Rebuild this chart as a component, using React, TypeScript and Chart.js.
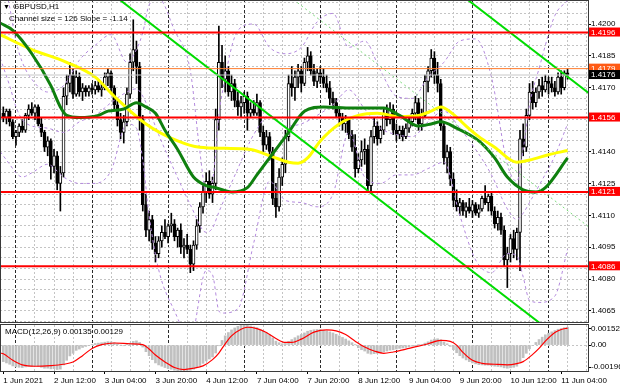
import React, { useEffect, useRef } from 'react';
import { Chart, registerables } from 'chart.js';

Chart.register(...registerables);

const FONT = "'Liberation Sans', 'DejaVu Sans', Arial, sans-serif";

// ---------------- texts ----------------
const symbolLabel = 'GBPUSD,H1';
const channelLabel = 'Channel size = 126 Slope = -1.14';
const macdLabel = 'MACD(12,26,9) 0.00135 0.00129';

// ---------------- time axis (bar 0 = 1 Jun 2021 20:00, H1) ----------------
const timeLabels = ['1 Jun 2021', '2 Jun 12:00', '3 Jun 04:00', '3 Jun 20:00', '4 Jun 12:00', '7 Jun 04:00',
  '7 Jun 20:00', '8 Jun 12:00', '9 Jun 04:00', '9 Jun 20:00', '10 Jun 12:00', '11 Jun 04:00'];
const timeLabelBars = [0, 16, 32, 48, 64, 80, 96, 112, 128, 144, 160, 176];
const daySeparatorBars = [4, 28, 52, 76, 100, 124, 148, 172];

// ---------------- price axis ----------------
const priceAxisLabels = [1.42, 1.4185, 1.417, 1.414, 1.4125, 1.411, 1.4095, 1.408, 1.4065];
const redLevels = [1.4196, 1.4156, 1.4121, 1.4086];
const orangeLevel = 1.4179;
const bidPrice = 1.4176;

// ---------------- candles ----------------
const opens = [
  1.4158, 1.4156, 1.4159, 1.4154, 1.4147, 1.4149, 1.4152, 1.4150, 1.4157, 1.4160,
  1.4158, 1.4161, 1.4153, 1.4149, 1.4142, 1.4145, 1.4133, 1.4138, 1.4125, 1.4130,
  1.4166, 1.4172, 1.4176, 1.4167, 1.4175, 1.4168, 1.4170, 1.4168, 1.4170, 1.4169,
  1.4171, 1.4169, 1.4170, 1.4175, 1.4177, 1.4170, 1.4162, 1.4155, 1.4149, 1.4154,
  1.4167, 1.4182, 1.4188, 1.4180, 1.4155, 1.4115, 1.4103, 1.4108, 1.4097, 1.4092,
  1.4098, 1.4102, 1.4100, 1.4105, 1.4106, 1.4100, 1.4103, 1.4095, 1.4096, 1.4094,
  1.4087, 1.4096, 1.4105, 1.4114, 1.4121, 1.4126, 1.4120, 1.4125, 1.4155, 1.4182,
  1.4174, 1.4178, 1.4168, 1.4172, 1.4164, 1.4161, 1.4163, 1.4166, 1.4158, 1.4160,
  1.4158, 1.4163, 1.4149, 1.4143, 1.4147, 1.4140, 1.4118, 1.4114, 1.4128, 1.4134,
  1.4147, 1.4172, 1.4170, 1.4175, 1.4178, 1.4172, 1.4182, 1.4185, 1.4178, 1.4173,
  1.4177, 1.4175, 1.4172, 1.4170, 1.4165, 1.4163, 1.4158, 1.4156, 1.4153, 1.4155,
  1.4148, 1.4142, 1.4132, 1.4136, 1.4140, 1.4141, 1.4124, 1.4147, 1.4152, 1.4146,
  1.4150, 1.4158, 1.4155, 1.4160, 1.4150, 1.4148, 1.4150, 1.4147, 1.4151, 1.4154,
  1.4158, 1.4163, 1.4153, 1.4157, 1.4173, 1.4178, 1.4184, 1.4176, 1.4172, 1.4152,
  1.4137, 1.4140, 1.4127, 1.4117, 1.4114, 1.4116, 1.4112, 1.4114, 1.4112, 1.4115,
  1.4111, 1.4113, 1.4118, 1.4116, 1.4119, 1.4112, 1.4106, 1.4109, 1.4103, 1.4089,
  1.4092, 1.4099, 1.4094, 1.4102, 1.4146, 1.4142, 1.4157, 1.4168, 1.4163, 1.4168,
  1.4171, 1.4169, 1.4173, 1.4172, 1.4170, 1.4168, 1.4175, 1.4170, 1.4177,
];
const highs = [
  1.4161, 1.4160, 1.4160, 1.4155, 1.4150, 1.4153, 1.4155, 1.4158, 1.4162, 1.4163,
  1.4162, 1.4162, 1.4156, 1.4150, 1.4147, 1.4146, 1.4141, 1.4140, 1.4133, 1.4170,
  1.4176, 1.4182, 1.4179, 1.4178, 1.4177, 1.4172, 1.4171, 1.4171, 1.4172, 1.4173,
  1.4174, 1.4172, 1.4177, 1.4179, 1.4178, 1.4171, 1.4164, 1.4158, 1.4157, 1.4170,
  1.4186, 1.4202, 1.4192, 1.4182, 1.4157, 1.4120, 1.4112, 1.4110, 1.4100, 1.4100,
  1.4105, 1.4108, 1.4106, 1.4111, 1.4108, 1.4104, 1.4106, 1.4099, 1.4101, 1.4096,
  1.4098, 1.4108, 1.4116, 1.4124, 1.4130, 1.4131, 1.4128, 1.4160, 1.4199, 1.4190,
  1.4185, 1.4180, 1.4176, 1.4174, 1.4168, 1.4166, 1.4168, 1.4168, 1.4163, 1.4164,
  1.4167, 1.4164, 1.4152, 1.4150, 1.4149, 1.4142, 1.4125, 1.4132, 1.4137, 1.4150,
  1.4176, 1.4180, 1.4178, 1.4181, 1.4180, 1.4184, 1.4189, 1.4187, 1.4181, 1.4179,
  1.4180, 1.4179, 1.4176, 1.4173, 1.4168, 1.4165, 1.4160, 1.4158, 1.4157, 1.4156,
  1.4150, 1.4148, 1.4139, 1.4145, 1.4146, 1.4143, 1.4150, 1.4156, 1.4154, 1.4152,
  1.4160, 1.4162, 1.4163, 1.4162, 1.4153, 1.4152, 1.4152, 1.4153, 1.4156, 1.4160,
  1.4166, 1.4165, 1.4160, 1.4176, 1.4180, 1.4188, 1.4187, 1.4182, 1.4174, 1.4154,
  1.4143, 1.4142, 1.4130, 1.4122, 1.4118, 1.4117, 1.4116, 1.4118, 1.4117, 1.4116,
  1.4115, 1.4119, 1.4124, 1.4120, 1.4121, 1.4114, 1.4112, 1.4111, 1.4105, 1.4095,
  1.4101, 1.4103, 1.4104, 1.4150, 1.4153, 1.4160, 1.4172, 1.4173, 1.4170, 1.4174,
  1.4175, 1.4176, 1.4175, 1.4175, 1.4173, 1.4177, 1.4178, 1.4178, 1.4179,
];
const lows = [
  1.4154, 1.4153, 1.4152, 1.4146, 1.4143, 1.4147, 1.4149, 1.4149, 1.4155, 1.4157,
  1.4155, 1.4152, 1.4147, 1.4140, 1.4138, 1.4127, 1.4130, 1.4122, 1.4112, 1.4128,
  1.4162, 1.4168, 1.4165, 1.4166, 1.4166, 1.4164, 1.4166, 1.4166, 1.4167, 1.4167,
  1.4168, 1.4166, 1.4169, 1.4171, 1.4168, 1.4160, 1.4152, 1.4146, 1.4144, 1.4152,
  1.4165, 1.4178, 1.4172, 1.4150, 1.4112, 1.4100, 1.4098, 1.4094, 1.4088, 1.4090,
  1.4095, 1.4099, 1.4097, 1.4102, 1.4098, 1.4095, 1.4092, 1.4090, 1.4092, 1.4083,
  1.4084, 1.4094, 1.4102, 1.4111, 1.4116, 1.4118, 1.4116, 1.4122, 1.4150, 1.4170,
  1.4168, 1.4166, 1.4164, 1.4161, 1.4157, 1.4156, 1.4158, 1.4150, 1.4156, 1.4157,
  1.4157, 1.4147, 1.4140, 1.4141, 1.4136, 1.4115, 1.4109, 1.4112, 1.4124, 1.4130,
  1.4145, 1.4166, 1.4164, 1.4170, 1.4168, 1.4171, 1.4178, 1.4176, 1.4171, 1.4170,
  1.4172, 1.4170, 1.4168, 1.4162, 1.4160, 1.4156, 1.4152, 1.4150, 1.4149, 1.4146,
  1.4140, 1.4128, 1.4130, 1.4133, 1.4134, 1.4122, 1.4121, 1.4144, 1.4143, 1.4144,
  1.4148, 1.4152, 1.4153, 1.4148, 1.4145, 1.4146, 1.4145, 1.4146, 1.4149, 1.4152,
  1.4155, 1.4150, 1.4150, 1.4156, 1.4168, 1.4175, 1.4172, 1.4168, 1.4150, 1.4134,
  1.4130, 1.4124, 1.4114, 1.4112, 1.4110, 1.4110, 1.4109, 1.4111, 1.4109, 1.4110,
  1.4109, 1.4112, 1.4115, 1.4112, 1.4110, 1.4104, 1.4103, 1.4101, 1.4086, 1.4076,
  1.4088, 1.4090, 1.4089, 1.4084, 1.4138, 1.4140, 1.4155, 1.4160, 1.4161, 1.4165,
  1.4166, 1.4168, 1.4167, 1.4168, 1.4166, 1.4167, 1.4167, 1.4169, 1.4174,
];
const closes = [
  1.4156, 1.4159, 1.4154, 1.4147, 1.4149, 1.4152, 1.4150, 1.4157, 1.4160, 1.4158,
  1.4161, 1.4153, 1.4149, 1.4142, 1.4145, 1.4133, 1.4138, 1.4125, 1.4130, 1.4166,
  1.4172, 1.4176, 1.4167, 1.4175, 1.4168, 1.4170, 1.4168, 1.4170, 1.4169, 1.4171,
  1.4169, 1.4170, 1.4175, 1.4177, 1.4170, 1.4162, 1.4155, 1.4149, 1.4154, 1.4167,
  1.4182, 1.4188, 1.4180, 1.4155, 1.4115, 1.4103, 1.4108, 1.4097, 1.4092, 1.4098,
  1.4102, 1.4100, 1.4105, 1.4106, 1.4100, 1.4103, 1.4095, 1.4096, 1.4094, 1.4087,
  1.4096, 1.4105, 1.4114, 1.4121, 1.4126, 1.4120, 1.4125, 1.4155, 1.4182, 1.4174,
  1.4178, 1.4168, 1.4172, 1.4164, 1.4161, 1.4163, 1.4166, 1.4158, 1.4160, 1.4158,
  1.4163, 1.4149, 1.4143, 1.4147, 1.4140, 1.4118, 1.4114, 1.4128, 1.4134, 1.4147,
  1.4172, 1.4170, 1.4175, 1.4178, 1.4172, 1.4182, 1.4185, 1.4178, 1.4173, 1.4177,
  1.4175, 1.4172, 1.4170, 1.4165, 1.4163, 1.4158, 1.4156, 1.4153, 1.4155, 1.4148,
  1.4142, 1.4132, 1.4136, 1.4140, 1.4141, 1.4124, 1.4147, 1.4152, 1.4146, 1.4150,
  1.4158, 1.4155, 1.4160, 1.4150, 1.4148, 1.4150, 1.4147, 1.4151, 1.4154, 1.4158,
  1.4163, 1.4153, 1.4157, 1.4173, 1.4178, 1.4184, 1.4176, 1.4172, 1.4152, 1.4137,
  1.4140, 1.4127, 1.4117, 1.4114, 1.4116, 1.4112, 1.4114, 1.4112, 1.4115, 1.4111,
  1.4113, 1.4118, 1.4116, 1.4119, 1.4112, 1.4106, 1.4109, 1.4103, 1.4089, 1.4092,
  1.4099, 1.4094, 1.4102, 1.4146, 1.4142, 1.4157, 1.4168, 1.4163, 1.4168, 1.4171,
  1.4169, 1.4173, 1.4172, 1.4170, 1.4168, 1.4175, 1.4170, 1.4177, 1.4176,
];

// ---------------- indicators: [bar, value] ----------------
const maYellow = [
  [-1, 1.4195], [9, 1.4188], [20, 1.4182], [29, 1.4175], [35, 1.4166], [45, 1.4153], [55, 1.4145],
  [62, 1.4142], [70, 1.41415], [78, 1.4141], [85, 1.41375], [90, 1.4135], [93, 1.41345], [96, 1.4137],
  [100, 1.4145], [106, 1.4153], [112, 1.4157], [118, 1.4158], [125, 1.41565], [131, 1.4157],
  [135, 1.4159], [138, 1.4161], [142, 1.41575], [146, 1.4152], [150, 1.4147], [155, 1.4142],
  [162, 1.4135], [166, 1.4136], [172, 1.41385], [178, 1.41405],
];
const maGreen = [
  [-1, 1.42005], [3, 1.4197], [9, 1.4186], [15, 1.4171], [18, 1.4161], [20, 1.4157], [24, 1.4156],
  [30, 1.4157], [33, 1.4159], [38, 1.4160], [42, 1.4163], [45, 1.4161], [48, 1.4158], [51, 1.4150],
  [55, 1.4141], [60, 1.4128], [64, 1.4124], [67, 1.4123], [72, 1.4121], [77, 1.4123], [80, 1.4129],
  [83, 1.4135], [90, 1.4149], [95, 1.4159], [101, 1.4161], [110, 1.41605], [120, 1.41605],
  [125, 1.4157], [131, 1.4152], [135, 1.4153], [138, 1.4154], [143, 1.4151], [150, 1.4145],
  [155, 1.4137], [159, 1.4128], [164, 1.4122], [168, 1.4121], [171, 1.4123], [178, 1.4137],
];
const bandUpper = [
  [-1, 1.4228], [2, 1.4208], [4, 1.4192], [6, 1.4182], [9, 1.4174], [14, 1.4168], [19, 1.4171],
  [24, 1.4183], [29, 1.4190], [34, 1.4195], [39, 1.4182], [42, 1.4188], [44, 1.4196], [46, 1.4209],
  [49, 1.4212], [54, 1.4197], [59, 1.4178], [62, 1.4140], [64, 1.4121], [66, 1.4126], [68, 1.4157],
  [69, 1.4167], [74, 1.4197], [79, 1.4200], [84, 1.4189], [89, 1.4186], [94, 1.4189], [99, 1.4201],
  [104, 1.4205], [109, 1.4189], [114, 1.4192], [119, 1.4178], [124, 1.4166], [129, 1.4165],
  [134, 1.4175], [139, 1.4182], [144, 1.4192], [149, 1.4193], [154, 1.4175], [159, 1.4134],
  [162, 1.4126], [164, 1.4141], [166, 1.4162], [169, 1.4179], [174, 1.4204], [178, 1.4211],
];
const bandMiddle = [
  [-1, 1.4184], [2, 1.4171], [4, 1.4161], [6, 1.4155], [9, 1.4152], [14, 1.4151], [19, 1.4149],
  [24, 1.4154], [29, 1.4157], [34, 1.4163], [39, 1.4168], [42, 1.41695], [44, 1.4166], [46, 1.41595],
  [49, 1.4148], [54, 1.4131], [59, 1.4115], [64, 1.4102], [66, 1.4104], [68, 1.41115], [69, 1.4115],
  [74, 1.4132], [79, 1.4148], [84, 1.4157], [89, 1.4152], [94, 1.4153], [99, 1.4157], [104, 1.4162],
  [109, 1.4169], [114, 1.4160], [119, 1.4151], [124, 1.4148], [129, 1.4147], [134, 1.4154],
  [139, 1.4159], [144, 1.4151], [149, 1.4141], [154, 1.4129], [159, 1.4113], [162, 1.4108],
  [164, 1.4111], [166, 1.4116], [169, 1.4124], [174, 1.4138], [178, 1.4153],
];
const bandLower = [
  [-1, 1.4140], [2, 1.4134], [4, 1.4130], [6, 1.4128], [9, 1.4130], [14, 1.4134], [19, 1.4128],
  [24, 1.4125], [29, 1.4125], [34, 1.4131], [39, 1.4153], [42, 1.4151], [44, 1.4136], [46, 1.4110],
  [49, 1.40845], [54, 1.4065], [59, 1.4052], [64, 1.4084], [66, 1.4082], [68, 1.4065], [69, 1.4064],
  [74, 1.4066], [79, 1.4097], [84, 1.4126], [89, 1.4117], [94, 1.4116], [99, 1.4114], [104, 1.4120],
  [109, 1.4149], [114, 1.4128], [119, 1.4125], [124, 1.4129], [129, 1.4129], [134, 1.4132],
  [139, 1.4135], [144, 1.4110], [149, 1.4089], [154, 1.4083], [159, 1.4092], [162, 1.4091],
  [164, 1.4081], [166, 1.4070], [169, 1.4069], [174, 1.4072], [178, 1.4094],
];
// regression channel (size 126, slope -1.14)
const channelBars = [-1, 185];
const channelUpper = [1.43807, 1.41672];
const channelMiddle = [1.43177, 1.41042];
const channelLower = [1.42547, 1.40412];

// ---------------- MACD ----------------
const macdMain = [
  -0.00125, -0.00135, -0.00145, -0.00158, -0.00165, -0.00168, -0.0017, -0.00165, -0.0016, -0.0016,
  -0.00158, -0.00162, -0.00168, -0.00175, -0.00175, -0.0018, -0.00178, -0.00185, -0.00182, -0.0015,
  -0.00115, -0.00082, -0.00062, -0.0004, -0.0003, -0.00018, -0.0001, -0.00002, 0.00005, 0.00012,
  0.00015, 0.00018, 0.00022, 0.00026, 0.00024, 0.00018, 0.0001, 0.0, -0.00005, 0.00002,
  0.00015, 0.00028, 0.00032, 0.0002, -0.00015, -0.0005, -0.0008, -0.0011, -0.00135, -0.0015,
  -0.0016, -0.0017, -0.00178, -0.00183, -0.0019, -0.00193, -0.00196, -0.00195, -0.00192, -0.0019,
  -0.00183, -0.0017, -0.00155, -0.00138, -0.0012, -0.00105, -0.0009, -0.0006, -0.00005, 0.00035,
  0.0007, 0.00095, 0.00115, 0.0013, 0.00142, 0.0015, 0.00152, 0.0015, 0.00145, 0.00138,
  0.00132, 0.0012, 0.00105, 0.00092, 0.00078, 0.00055, 0.0003, 0.00018, 0.0001, 0.00012,
  0.00028, 0.00042, 0.00056, 0.0007, 0.0008, 0.00092, 0.00105, 0.00112, 0.00116, 0.00118,
  0.00117, 0.00113, 0.00108, 0.001, 0.00092, 0.00082, 0.0007, 0.00058, 0.00046, 0.00032,
  0.00018, 0.00002, -0.0002, -0.00035, -0.00045, -0.00062, -0.00068, -0.00065, -0.00062, -0.00058,
  -0.00052, -0.00045, -0.00038, -0.00035, -0.0003, -0.00025, -0.00022, -0.00018, -0.00012, -0.00008,
  -0.00002, 0.00002, 0.00005, 0.00015, 0.00025, 0.00038, 0.00045, 0.00048, 0.0004, 0.00022,
  0.0001, -0.0001, -0.00035, -0.00058, -0.0008, -0.00098, -0.00112, -0.00125, -0.00135, -0.00142,
  -0.00148, -0.0015, -0.00152, -0.00152, -0.00155, -0.0016, -0.00162, -0.00165, -0.00172, -0.00175,
  -0.00172, -0.00168, -0.0016, -0.00125, -0.00095, -0.00062, -0.00028, -0.00003, 0.0002, 0.00042,
  0.0006, 0.00078, 0.0009, 0.001, 0.0011, 0.0012, 0.00125, 0.00132, 0.00135,
];
const macdSignal = [
  [-1, -0.0006], [0, -0.00066], [3, -0.00115], [6, -0.0015], [10, -0.0016], [15, -0.00155], [19, -0.00145],
  [22, -0.00128], [25, -0.0008], [28, -0.00025], [31, 0.00003], [35, 0.00016], [40, 0.0001], [44, 0.00003],
  [46, -0.0003], [48, -0.00075], [51, -0.00127], [54, -0.0017], [57, -0.00185], [60, -0.00175],
  [63, -0.00157], [66, -0.0011], [68, -0.0006], [70, 0.0001], [72, 0.0007], [75, 0.0012], [77, 0.00135],
  [80, 0.00125], [83, 0.00095], [86, 0.0005], [89, 0.0002], [91, 0.0002], [94, 0.00045], [98, 0.00098],
  [102, 0.00115], [105, 0.00108], [108, 0.0008], [111, 0.0003], [114, -0.00015], [117, -0.00045],
  [120, -0.00062], [123, -0.00052], [127, -0.0003], [131, -0.00008], [134, 0.0001], [138, 0.00035],
  [141, 0.00028], [143, 0.0], [145, -0.00055], [148, -0.00115], [151, -0.00138], [155, -0.00145],
  [159, -0.0015], [162, -0.0014], [164, -0.00125], [167, -0.0007], [169, -0.00025], [171, 0.0003],
  [174, 0.00095], [176, 0.00118], [178, 0.00129],
];
const macdAxisLabels = ['0.00152', '0.00', '-0.00196'];
const macdMax = 0.00152;
const macdMin = -0.00196;

// ---------------- view ----------------
const X_MIN = -1.04;
const X_MAX = 184.45;
const Y_MIN = 1.40598;
const Y_MAX = 1.42113;

const near = (a: number, b: number) => Math.abs(a - b) < 1e-7;
const xy = (pairs: number[][]) => pairs.map(([x, y]) => ({ x, y }));
const hline = (v: number) => [{ x: X_MIN, y: v }, { x: X_MAX, y: v }];

function levelBg(v: number): string | null {
  if (v === undefined) return null;
  if (near(v, bidPrice)) return '#000000';
  if (near(v, orangeLevel)) return '#ff5a14';
  if (redLevels.some((l) => near(l, v))) return '#ff0000';
  return null;
}
const isPriceLabel = (v: number) => priceAxisLabels.some((l) => near(l, v));

const gridBars: number[] = [];
for (let b = -2; b <= X_MAX; b += 6) if (b >= X_MIN && !daySeparatorBars.includes(b)) gridBars.push(b);

const zeroPad = (s: any) => {
  s.paddingTop = 0;
  s.paddingBottom = 0;
  s.paddingLeft = 0;
  s.paddingRight = 0;
};

function hiddenXAxis(ticks: number[], color: string, dash: number[]) {
  return {
    type: 'linear', position: 'bottom', min: X_MIN, max: X_MAX, bounds: 'data', offset: false,
    afterBuildTicks: (s: any) => { s.ticks = ticks.map((v) => ({ value: v })); },
    afterFit: (s: any) => { s.height = 0; zeroPad(s); },
    ticks: { display: false },
    grid: { color, lineWidth: 1, drawTicks: false, offset: false },
    border: { display: false, dash },
  };
}

function framePlugin(texts: { t: string; x: number; y: number; size: number }[], topOffset: number) {
  return {
    id: 'frame' + topOffset,
    afterDraw(chart: any) {
      const { ctx, chartArea: a } = chart;
      ctx.save();
      ctx.strokeStyle = '#3a3a3a';
      ctx.lineWidth = 1;
      ctx.strokeRect(a.left + 0.5, a.top - topOffset + 0.5, a.right - a.left, a.bottom - a.top + topOffset);
      ctx.fillStyle = '#000';
      ctx.textBaseline = 'middle';
      texts.forEach((tx) => {
        ctx.font = `${tx.size}px ${FONT}`;
        ctx.fillText(tx.t, tx.x, tx.y);
      });
      ctx.restore();
    },
  };
}

function mainConfig(): any {
  const idx = closes.map((_, i) => i);
  const bull = idx.filter((i) => closes[i] >= opens[i]);
  const bear = idx.filter((i) => closes[i] < opens[i]);
  const yTicks: number[] = [];
  for (let k = 0; k <= 30; k++) yTicks.push(Math.round((1.406 + k * 0.0005) * 10000) / 10000);
  const allTicks = [...yTicks, ...redLevels, orangeLevel, bidPrice];
  const line = (data: any, color: string, width: number, order: number, extra: any = {}) => ({
    type: 'line', data, borderColor: color, borderWidth: width, pointRadius: 0, fill: false,
    order, ...extra,
  });
  return {
    type: 'bar',
    data: {
      datasets: [
        { type: 'bar', data: idx.map((i) => ({ x: i, y: [lows[i], highs[i]] })), backgroundColor: '#000',
          borderWidth: 0, barThickness: 1, grouped: false, order: 21 },
        { type: 'bar', data: bull.map((i) => ({ x: i, y: [opens[i], closes[i]] })), backgroundColor: '#ffffff',
          borderColor: '#000', borderWidth: 1, borderSkipped: false, barThickness: 3, minBarLength: 1, grouped: false, order: 20 },
        { type: 'bar', data: bear.map((i) => ({ x: i, y: [opens[i], closes[i]] })), backgroundColor: '#000',
          borderColor: '#000', borderWidth: 1, borderSkipped: false, barThickness: 3, minBarLength: 1, grouped: false, order: 20 },
        line(xy(bandUpper), '#b48ade', 1, 9, { borderDash: [3, 3], cubicInterpolationMode: 'monotone' }),
        line(xy(bandMiddle), '#b48ade', 1, 9, { borderDash: [3, 3], cubicInterpolationMode: 'monotone' }),
        line(xy(bandLower), '#b48ade', 1, 9, { borderDash: [3, 3], cubicInterpolationMode: 'monotone' }),
        line(xy(maYellow), '#ffff00', 3, 7, { cubicInterpolationMode: 'monotone' }),
        line(xy(maGreen), '#0f800f', 3, 6, { cubicInterpolationMode: 'monotone' }),
        line(channelBars.map((x, i) => ({ x, y: channelUpper[i] })), '#00dc00', 2, 5),
        line(channelBars.map((x, i) => ({ x, y: channelMiddle[i] })), '#7ada7a', 1, 5, { borderDash: [2, 3] }),
        line(channelBars.map((x, i) => ({ x, y: channelLower[i] })), '#00dc00', 2, 5),
        line(hline(bidPrice), '#c8c8c8', 1, 4),
        line(hline(orangeLevel), '#ff7a2a', 1, 3),
        ...redLevels.map((l) => line(hline(l), '#ff0000', 2, 2)),
      ],
    },
    options: {
      responsive: false,
      animation: false,
      events: [],
      layout: { padding: { left: 0, right: 0, top: 0, bottom: 1 }, autoPadding: false },
      plugins: { legend: { display: false }, tooltip: { enabled: false } },
      scales: {
        x: hiddenXAxis(gridBars, '#c4c4c4', [2, 2]),
        xd: hiddenXAxis(daySeparatorBars, '#2a2a2a', [3, 2]),
        y: {
          type: 'linear', position: 'right', min: Y_MIN, max: Y_MAX, bounds: 'data',
          afterBuildTicks: (s: any) => { s.ticks = allTicks.map((v) => ({ value: v })); },
          afterFit: (s: any) => { s.width = 32; zeroPad(s); },
          ticks: {
            autoSkip: false, padding: 0, font: { family: FONT, size: 8, lineHeight: 1 },
            color: (c: any) => (c.tick && levelBg(c.tick.value) ? '#ffffff' : '#000000'),
            showLabelBackdrop: (c: any) => !!(c.tick && levelBg(c.tick.value)),
            backdropColor: (c: any) => (c.tick && levelBg(c.tick.value)) || 'rgba(0,0,0,0)',
            backdropPadding: { top: 1, bottom: 0, left: 2, right: 6 },
            callback: (v: any) => (isPriceLabel(Number(v)) || levelBg(Number(v)) ? Number(v).toFixed(4) : ''),
          },
          grid: {
            color: (c: any) => (c.tick && levelBg(c.tick.value) ? 'rgba(0,0,0,0)' : '#c4c4c4'),
            tickColor: (c: any) => (c.tick && isPriceLabel(c.tick.value) ? '#000' : 'rgba(0,0,0,0)'),
            drawTicks: true, tickLength: 3, lineWidth: 1,
          },
          border: { display: true, color: '#3a3a3a', dash: [2, 2] },
        },
      },
    },
    plugins: [framePlugin([
      { t: '\u25BC', x: 3, y: 7, size: 7 },
      { t: symbolLabel, x: 13, y: 7, size: 8 },
      { t: channelLabel, x: 9, y: 19, size: 8 },
    ], 0)],
  };
}

function macdConfig(): any {
  const inset = 0.0003;
  const tickVals = [macdMax - inset, 0, macdMin + inset];
  return {
    type: 'bar',
    data: {
      datasets: [
        { type: 'bar', data: macdMain.map((v, i) => ({ x: i, y: v })), backgroundColor: '#c0c0c0',
          borderWidth: 0, barThickness: 2, grouped: false, order: 2 },
        { type: 'line', data: xy(macdSignal), borderColor: '#ff0000', borderWidth: 1.2, pointRadius: 0,
          fill: false, cubicInterpolationMode: 'monotone', order: 1 },
      ],
    },
    options: {
      responsive: false,
      animation: false,
      events: [],
      layout: { padding: { left: 0, right: 0, top: 2, bottom: 0 }, autoPadding: false },
      plugins: { legend: { display: false }, tooltip: { enabled: false } },
      scales: {
        x: {
          type: 'linear', position: 'bottom', min: X_MIN, max: X_MAX, bounds: 'data', offset: false,
          afterBuildTicks: (s: any) => { s.ticks = timeLabelBars.map((v) => ({ value: v })); },
          afterFit: (s: any) => { s.height = 17; zeroPad(s); },
          ticks: {
            autoSkip: false, maxRotation: 0, minRotation: 0, align: 'start', padding: 2,
            font: { family: FONT, size: 8 }, color: '#000',
            callback: (_v: any, i: number) => timeLabels[i],
          },
          grid: { color: 'rgba(0,0,0,0)', drawOnChartArea: false, drawTicks: true, tickLength: 3, tickColor: '#000', offset: false },
          border: { display: true, color: '#3a3a3a' },
        },
        xg: hiddenXAxis(gridBars, '#c4c4c4', [2, 2]),
        xd: hiddenXAxis(daySeparatorBars, '#2a2a2a', [3, 2]),
        y: {
          type: 'linear', position: 'right', min: macdMin, max: macdMax, bounds: 'data',
          afterBuildTicks: (s: any) => { s.ticks = tickVals.map((v) => ({ value: v })); },
          afterFit: (s: any) => { s.width = 32; zeroPad(s); },
          ticks: {
            autoSkip: false, padding: 0, font: { family: FONT, size: 8 }, color: '#000',
            callback: (_v: any, i: number) => macdAxisLabels[i],
          },
          grid: {
            color: (c: any) => (c.index === 1 ? '#c4c4c4' : 'rgba(0,0,0,0)'),
            tickColor: '#000', drawTicks: true, tickLength: 3, lineWidth: 1,
          },
          border: { display: true, color: '#3a3a3a', dash: [2, 2] },
        },
      },
    },
    plugins: [framePlugin([{ t: macdLabel, x: 5, y: 9, size: 8 }], 1)],
  };
}

export default function App() {
  const mainRef = useRef<HTMLCanvasElement>(null);
  const macdRef = useRef<HTMLCanvasElement>(null);
  useEffect(() => {
    document.body.style.margin = '0';
    const main = new Chart(mainRef.current as HTMLCanvasElement, mainConfig());
    const macd = new Chart(macdRef.current as HTMLCanvasElement, macdConfig());
    return () => {
      main.destroy();
      macd.destroy();
    };
  }, []);
  return (
    <div style={{ position: 'relative', width: 620, height: 388, background: '#ffffff', overflow: 'hidden' }}>
      <canvas ref={mainRef} width={620} height={323} style={{ position: 'absolute', left: 0, top: 0 }} />
      <canvas ref={macdRef} width={620} height={65} style={{ position: 'absolute', left: 0, top: 323 }} />
    </div>
  );
}
